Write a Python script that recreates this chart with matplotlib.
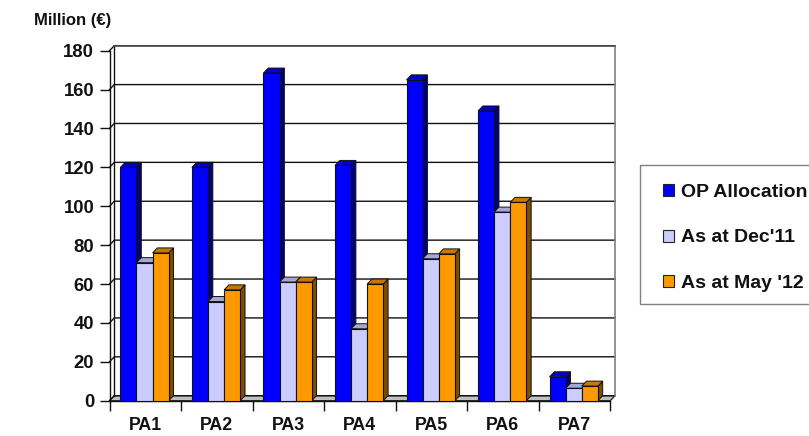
import matplotlib
matplotlib.use("Agg")
import matplotlib.pyplot as plt
from matplotlib.patches import Polygon, Rectangle, Patch

categories = ["PA1", "PA2", "PA3", "PA4", "PA5", "PA6", "PA7"]
op_allocation = [120, 120, 168.5, 121, 165, 149, 12.3]
dec_11 = [71, 51, 61, 37, 73, 97, 6.4]
may_12 = [76, 57, 61, 60, 75.5, 102, 7.5]
series_names = ["OP Allocation", "As at Dec'11", "As at May '12"]
y_ticks = list(range(0, 181, 20))

W, H = 809, 436
plt.rcParams["font.family"] = ["Liberation Sans", "DejaVu Sans"]
plt.rcParams["font.weight"] = "bold"
fig = plt.figure(figsize=(W / 100, H / 100), dpi=100)

L, R, T, B = 109.5, 610.2, 50.7, 400.7
ax = fig.add_axes([L / W, 1 - B / H, (R - L) / W, (B - T) / H])
ax.set_xlim(0, len(categories))
ax.set_ylim(0, 180)
for s in ax.spines.values():
    s.set_visible(False)
ax.patch.set_alpha(0)

# depth of the pseudo-3D box in data units (5 px each way)
dx = 4.8 * len(categories) / (R - L)
dy = 5.0 * 180 / (B - T)

# walls
ax.add_patch(Polygon([(0, 0), (dx, dy), (7 + dx, dy), (7, 0)], closed=True,
                     facecolor="#c0c0c0", edgecolor="#202020", lw=0.9, clip_on=False, zorder=1))
for v in y_ticks:
    ax.plot([0, dx, 7 + dx], [v, v + dy, v + dy], color="#111111", lw=1.0, clip_on=False, zorder=1,
            solid_joinstyle="miter")
ax.plot([dx, dx], [dy, 180 + dy], color="#111111", lw=1.0, clip_on=False, zorder=1)
ax.plot([0, 0], [0, 180], color="#111111", lw=1.0, clip_on=False, zorder=1)
ax.plot([7 + dx, 7 + dx], [dy, 180 + dy], color="#808080", lw=1.2, clip_on=False, zorder=1)
ax.plot([dx, 7 + dx], [180 + dy, 180 + dy], color="#555555", lw=1.1, clip_on=False, zorder=1)
ax.plot([0, 7], [0, 0], color="#111111", lw=1.0, clip_on=False, zorder=1)

# bars with side and top faces
bar_w = 16.1 * len(categories) / (R - L)
series = [
    (op_allocation, "#0000ff", "#000080", "#0000c8"),
    (dec_11, "#ccccff", "#66668a", "#a5a5d8"),
    (may_12, "#ff9900", "#804c00", "#c87800"),
]
for j, (vals, face, side, top) in enumerate(series):
    for i, v in enumerate(vals):
        x0 = i + 0.49 + (j - 1.5) * bar_w
        x1 = x0 + bar_w
        z = 3 + j + i * 10
        ax.add_patch(Polygon([(x1, 0), (x1 + dx, dy), (x1 + dx, v + dy), (x1, v)], closed=True,
                             facecolor=side, edgecolor="#111111", lw=0.7, clip_on=False, zorder=z))
        ax.add_patch(Polygon([(x0, v), (x0 + dx, v + dy), (x1 + dx, v + dy), (x1, v)], closed=True,
                             facecolor=top, edgecolor="#111111", lw=0.7, clip_on=False, zorder=z))
        ax.bar(x0, v, width=bar_w, align="edge", color=face, edgecolor="#111111", lw=0.8,
               clip_on=False, zorder=z + 0.5)

ax.set_yticks(y_ticks)
ax.set_xticks(range(len(categories) + 1))
ax.set_xticks([i + 0.5 for i in range(len(categories))], minor=True)
ax.set_xticklabels([""] * (len(categories) + 1))
ax.set_xticklabels(categories, minor=True)
ax.tick_params(axis="y", length=7, width=1.0, color="#111111", labelsize=13.3, pad=4)
ax.tick_params(axis="x", which="major", length=7, width=1.0, color="#111111")
ax.tick_params(axis="x", which="minor", length=0, labelsize=12.8, pad=12)
for t in ax.get_xticklabels(minor=True) + ax.get_yticklabels():
    t.set_fontweight("bold")
    t.set_color("#111111")

fig.text(34 / W, 1 - 21 / H, "Million (€)", fontsize=12, fontweight="bold", color="#111111",
         ha="left", va="center")

# legend frame runs off to the image's right edge
fig.add_artist(Rectangle((640 / W, 1 - 304 / H), 170 / W, 139 / H, transform=fig.transFigure,
                         facecolor="white", edgecolor="#808080", lw=1.0))
handles = [Patch(facecolor=f, edgecolor="#222222", lw=0.8) for _, f, _, _ in series]
leg = fig.legend(handles, series_names, loc="center left", bbox_to_anchor=(663 / W, 1 - 238 / H),
                 frameon=False, fontsize=14, handlelength=0.58, handleheight=0.58, handletextpad=0.36,
                 labelspacing=1.45, borderpad=0, borderaxespad=0)
for t in leg.get_texts():
    t.set_fontweight("bold")
    t.set_color("#111111")

fig.savefig("out.png", dpi=100)
